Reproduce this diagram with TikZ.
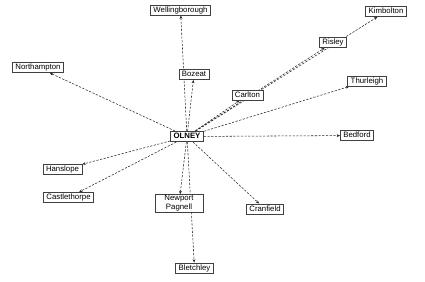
\documentclass[tikz,border=0pt]{standalone}
\usepackage{fontspec}
\setmainfont{Liberation Sans}
\usetikzlibrary{arrows.meta}
\pgfdeclarelayer{background}
\pgfsetlayers{background,main}
\begin{document}
\begin{tikzpicture}[x=1pt,y=-1pt,
  town/.style={draw=black!75,fill=white,line width=0.6pt,inner xsep=3pt,inner ysep=1.5pt,
    font=\fontsize{7.8}{9}\selectfont,text height=5.8pt,text depth=1.5pt},
  link/.style={draw=black!85,line width=0.55pt,dash pattern=on 2.2pt off 1.5pt,
    -{Stealth[length=3.4pt,width=2.8pt]}}]
\useasboundingbox (0,0) rectangle (425,281);
\node[town] (well) at (180.5,10) {Wellingborough};
\node[town] (kimb) at (386,11.5) {Kimbolton};
\node[town] (risl) at (333,42.5) {Risley};
\node[town] (north) at (38,67.5) {Northampton};
\node[town] (boz) at (194,74.5) {Bozeat};
\node[town] (thur) at (367,81) {Thurleigh};
\node[town] (carl) at (247.5,95) {Carlton};
\node[town] (beds) at (357,135.5) {Bedford};
\node[town] (hans) at (62.5,169.5) {Hanslope};
\node[town] (cast) at (68.5,197.5) {Castlethorpe};
\node[town,minimum width=48pt,align=center,text height=13.5pt] (newp) at (179,203.5) {Newport\\Pagnell};
\node[town] (blet) at (194.5,268) {Bletchley};
\node[town] (cran) at (265,209) {Cranfield};
\node[town,font=\fontsize{7.8}{9}\selectfont\bfseries,line width=0.8pt] (olney) at (187,136.5) {OLNEY};
\begin{pgfonlayer}{background}
\draw[link] (olney) -- (well);
\draw[link] (olney) -- (north);
\draw[link] (olney) -- (boz);
\draw[link] (olney) -- (carl);
\draw[link] (olney) -- (risl);
\draw[link] (olney) -- (kimb);
\draw[link] (olney) -- (thur);
\draw[link] (olney) -- (beds);
\draw[link] (olney) -- (hans);
\draw[link] (olney) -- (cast);
\draw[link] (olney) -- (newp);
\draw[link] (olney) -- (blet);
\draw[link] (olney) -- (cran);
\end{pgfonlayer}
\end{tikzpicture}
\end{document}
